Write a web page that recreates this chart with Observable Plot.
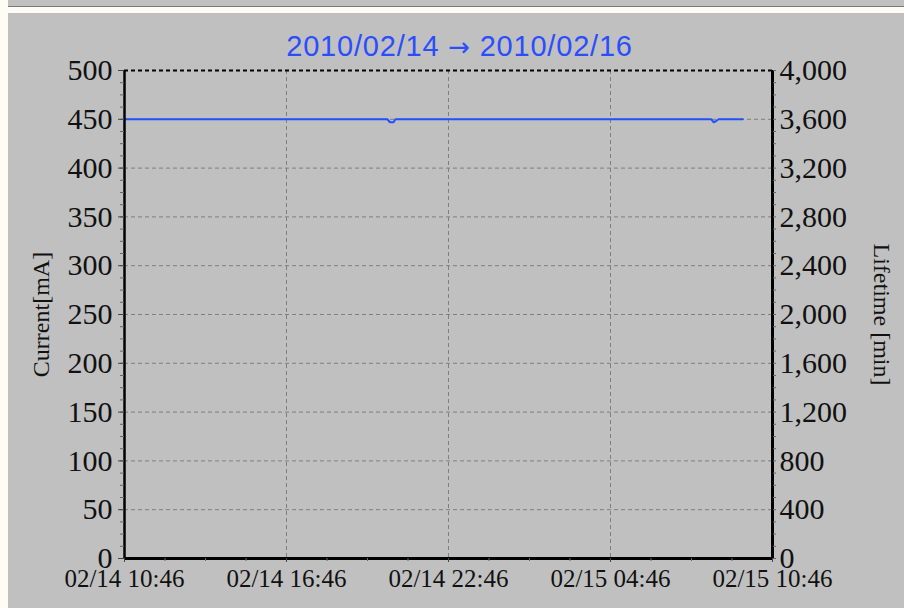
<!DOCTYPE html>
<html><head><meta charset="utf-8">
<script src="https://cdn.jsdelivr.net/npm/d3@7"></script>
<script src="https://cdn.jsdelivr.net/npm/@observablehq/plot@0.6"></script>
<style>
html,body{margin:0;padding:0;width:904px;height:608px;overflow:hidden;background:#fdfdf6;}
#topbar{position:absolute;left:8px;top:0;width:896px;height:6px;background:#c0c0c0;border-bottom:1px solid #7a7a7a;}
#panel{position:absolute;left:8px;top:13px;width:896px;height:595px;background:#c0c0c0;}
#title{position:absolute;left:459.5px;top:31.5px;transform:translateX(-50%);white-space:nowrap;font:29px/29px "Liberation Sans";letter-spacing:0.8px;color:#2a4dff;}
#title .arr{font-family:"DejaVu Sans";font-size:26px;}
#chart{position:absolute;left:0;top:60px;}
</style></head><body>
<div id="topbar"></div><div id="panel"></div>
<div id="title"></div>
<div id="chart"></div>
<script>
// Beam current samples (mA)
const times = ["2010-02-14T10:46","2010-02-14T20:30","2010-02-14T20:36","2010-02-14T20:44","2010-02-14T20:48",
               "2010-02-15T08:30","2010-02-15T08:35","2010-02-15T08:40","2010-02-15T08:46","2010-02-15T09:40"];
const current = [450,450,447,447,450,450,447,448,450,450];
// Axes
const currentTicks = [0,50,100,150,200,250,300,350,400,450,500];
const lifetimeTicks = [0,400,800,1200,1600,2000,2400,2800,3200,3600,4000];
const timeTicks = ["2010-02-14T10:46","2010-02-14T16:46","2010-02-14T22:46","2010-02-15T04:46","2010-02-15T10:46"];
const titleFrom = "2010/02/14", titleArrow = "→", titleTo = "2010/02/16";
const yLabel = "Current[mA]";
const y2Label = "Lifetime [min]";

const parse = s => new Date(s + ":00Z");
const data = times.map((t, i) => ({time: parse(t), current: current[i]}));
const xT = timeTicks.map(parse);
const tStart = xT[0], tEnd = xT[xT.length - 1];
const ratio = lifetimeTicks[lifetimeTicks.length - 1] / currentTicks[currentTicks.length - 1];
const yMax = currentTicks[currentTicks.length - 1];
const minorY = d3.range(0, yMax + 0.001, (currentTicks[1] - currentTicks[0]) / 4);
const step = (xT[1] - xT[0]) / 4;
const minorX = d3.range(0, (tEnd - tStart) / step + 0.5).map(i => new Date(+tStart + i * step));
const fmtX = d3.utcFormat("%m/%d %H:%M");

const title = document.getElementById("title");
title.append(titleFrom + " ");
const arr = document.createElement("span"); arr.className = "arr"; arr.textContent = titleArrow;
title.append(arr, " " + titleTo);

const chart = Plot.plot({
  width: 904, height: 548,
  marginLeft: 124, marginRight: 132, marginTop: 10, marginBottom: 50,
  style: {background: "transparent", fontFamily: "Liberation Serif", color: "#000", overflow: "visible"},
  x: {type: "utc", domain: [tStart, tEnd], label: null},
  y: {domain: [0, yMax], label: null},
  marks: [
    Plot.ruleY(currentTicks.slice(1, -1), {stroke: "#7f7f7f", strokeDasharray: "4,3", strokeWidth: 1}),
    Plot.ruleX(xT.slice(1, -1), {stroke: "#7f7f7f", strokeDasharray: "4,3", strokeWidth: 1}),
    Plot.line(data, {x: "time", y: "current", stroke: "#2050ff", strokeWidth: 2}),
    Plot.ruleY([yMax], {stroke: "#000", strokeDasharray: "4,3", strokeWidth: 2}),
    Plot.ruleY([0], {stroke: "#000", strokeWidth: 3}),
    Plot.ruleX([tStart], {stroke: "#000", strokeWidth: 2.5}),
    Plot.ruleX([tEnd], {stroke: "#000", strokeWidth: 3}),
    // minor ticks
    Plot.axisY(minorY, {anchor: "left", tickSize: 4, tickFormat: () => "", stroke: "#666", label: null}),
    Plot.axisY(minorY, {anchor: "right", tickSize: 3, tickFormat: () => "", stroke: "#666", label: null}),
    Plot.axisX(minorX, {anchor: "bottom", tickSize: 3, tickFormat: () => "", stroke: "#666", label: null}),
    // major axes
    Plot.axisY(currentTicks, {anchor: "left", tickSize: 6, tickPadding: 6, fontSize: 30, stroke: "#444", fill: "#111", label: null, style: "letter-spacing:1px"}),
    Plot.axisY(lifetimeTicks.map(v => v / ratio), {anchor: "right", tickSize: 0, tickPadding: 7, fontSize: 30, fill: "#111",
      tickFormat: d => d3.format(",")(Math.round(d * ratio)), label: null}),
    Plot.axisX(xT, {anchor: "bottom", tickSize: 4, tickPadding: 7, fontSize: 25, fill: "#111", stroke: "#444", tickFormat: fmtX, label: null}),
    Plot.text([yLabel], {frameAnchor: "left", dx: -83, rotate: -90, fontSize: 24, fill: "#111", textAnchor: "middle", lineAnchor: "middle"}),
    Plot.text([y2Label], {frameAnchor: "right", dx: 109, rotate: 90, fontSize: 24, fill: "#111", textAnchor: "middle", lineAnchor: "middle"})
  ]
});
document.getElementById("chart").appendChild(chart);
</script></body></html>
